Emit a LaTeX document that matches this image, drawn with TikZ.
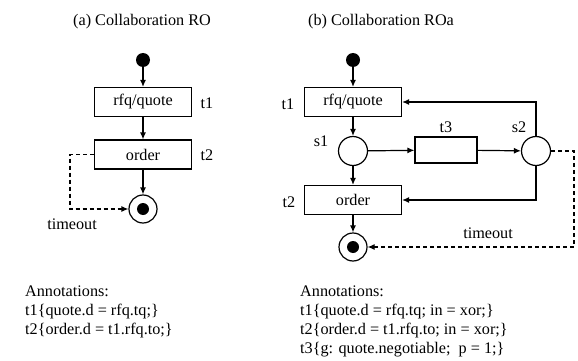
\documentclass[tikz,border=0pt]{standalone}
\usepackage{fontspec}
\setmainfont{Liberation Serif}
\usetikzlibrary{arrows.meta}

\begin{document}
\begin{tikzpicture}[
    x=1pt, y=-1pt,
    every node/.style={anchor=center, font=\fontsize{16.2}{18.7}\selectfont},
    title/.style={anchor=center},
    trans/.style={draw, line width=1.2pt, minimum width=97pt, minimum height=29pt, inner sep=0pt},
    small trans/.style={trans, minimum width=62pt, minimum height=26pt},
    place/.style={circle, draw, line width=1.2pt, minimum size=29pt, inner sep=0pt},
    startdot/.style={circle, fill, minimum size=14pt, inner sep=0pt},
    token/.style={circle, fill, minimum size=12pt, inner sep=0pt},
    annot/.style={anchor=north west, align=left, inner sep=0pt},
    arrow/.style={-{Latex[length=7pt,width=6pt]}, line width=1.2pt},
    dasharrow/.style={arrow, dash pattern=on 4pt off 3pt}
    ]
\useasboundingbox (0,0) rectangle (578,361);

% Titles
\node[title] (title a) at (142,22) {(a) Collaboration RO};
\node[title] (title b) at (381,22) {(b) Collaboration ROa};

% Collaboration RO
\node[startdot] (init a) at (143,60) {};
\node[trans] (rfq a) at (143,102) {rfq/quote};
\node (t1 a) at (207,103) {t1};
\node[trans] (order a) at (143,154.5) {order};
\node (t2 a) at (207,155) {t2};
\node[place, minimum size=28pt] (end a) at (143,209) {};
\node[token] (end a dot) at (end a) {};
\coordinate (bend a) at (70,209);
\node (timeout a) at (72,224) {timeout};

% Arrows for RO
\draw[arrow] (init a) -- (rfq a);
\draw[arrow] (rfq a) -- (order a);
\draw[arrow] (order a) -- (end a);
\draw[dasharrow] (order a.west) -| (bend a) -- (end a);

% Collaboration ROa
\node[startdot] (init b) at (353,60) {};
\node[trans] (rfq b) at (353,102) {rfq/quote};
\node (t1 b) at (288,104) {t1};
\node[place] (s1) at (353,151) {};
\node (s1 label) at (321,141) {s1};
\node[small trans] (t3) at (446,150) {};
\node (t3 label) at (446,127) {t3};
\node[place] (s2) at (536,151) {};
\node (s2 label) at (519,127) {s2};
\node[trans] (order b) at (353,200) {order};
\node (t2 b) at (289,202) {t2};
\node[place, minimum size=28pt] (end b) at (353,247) {};
\node[token] (end b dot) at (end b) {};
\coordinate (bend b) at (574,151);
\node (timeout b) at (488,233) {timeout};

% Arrows for ROa
\draw[arrow] (init b) -- (rfq b);
\draw[arrow] (rfq b) -- (s1);
\draw[arrow] (s1) -- (order b);
\draw[arrow] (s1) -- (t3);
\draw[arrow] (t3) -- (s2);
\draw[arrow] (s2) |- (rfq b);
\draw[arrow] (s2) |- (order b);
\draw[arrow] (order b) -- (end b);
\draw[dasharrow] (s2) -- (bend b) |- (end b);

% Annotations
\node[annot] (annot a) at (25,286) {Annotations:\\
    t1\{quote.d = rfq.tq;\}\\
    t2\{order.d = t1.rfq.to;\}};
\node[annot] (annot b) at (300,286) {Annotations:\\
    t1\{quote.d = rfq.tq; in = xor;\}\\
    t2\{order.d = t1.rfq.to; in = xor;\}\\
    t3\{g: quote.negotiable;\ \ p = 1;\}};

\end{tikzpicture}
\end{document}
